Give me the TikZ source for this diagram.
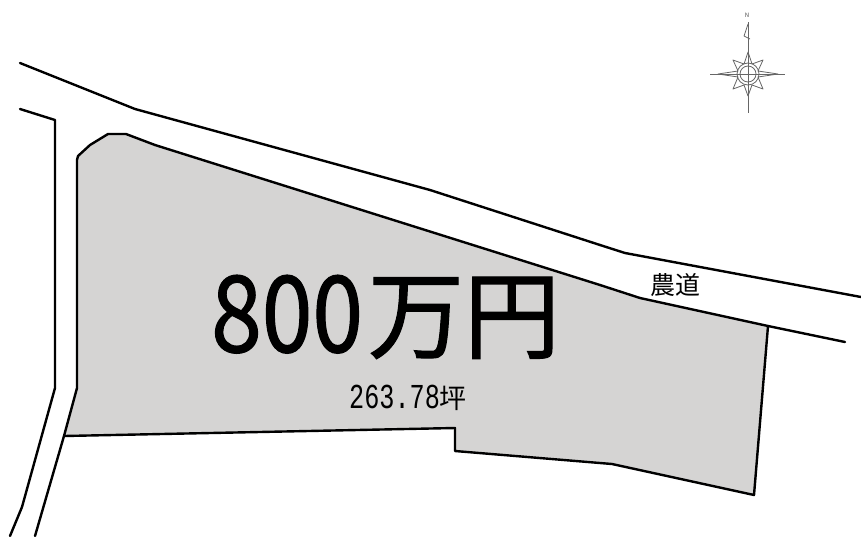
\documentclass[tikz,border=0pt]{standalone}
\usepackage{fontspec}
\setmainfont{Noto Sans CJK JP}
\newfontfamily\monof{Liberation Mono}
\newfontfamily\heavyf[FakeBold=1.2]{Noto Sans CJK JP}
\definecolor{lotgray}{HTML}{D5D4D3}
\tikzset{
  line/.style={line width=2.4pt,black,line join=round,line cap=round},
  comp/.style={line width=.8pt,draw=black!60,line join=round},
  lab/.style={inner sep=0pt,text=black}
}
\begin{document}
\begin{tikzpicture}[x=1pt,y=-1pt]
\useasboundingbox (0,0) rectangle (861,536);
% lot
\draw[line,fill=lotgray] (77,160) -- (78,156) -- (90,145) -- (108,134) -- (126,134) -- (155,145)
  -- (600,285) -- (640,298) -- (768,326) -- (754,495) -- (612,464) -- (455,451) -- (455,428)
  -- (64,436) -- (77,388) -- cycle;
% road lower edge continuation
\draw[line] (768,326) -- (845,342);
% road upper edge
\draw[line] (20,63) -- (135,109) -- (430,190) -- (600,245) -- (625,253) -- (861,297);
% left road
\draw[line] (20,109) -- (55,120) -- (55,388) -- (22,507) -- (10,536);
\draw[line] (64,436) -- (35,536);
% labels
\node[lab,anchor=base west] (price) at (211,352) {\heavyf\scalebox{.86}[1]{\fontsize{106}{106}\selectfont 800}\hspace{5pt}\raisebox{1pt}{\fontsize{96}{96}\selectfont 万円}};
\node[lab,anchor=base west] (area) at (349,408) {\scalebox{.72}[1]{\monof\fontsize{35}{35}\selectfont 263.78}\fontsize{27}{27}\selectfont 坪};
\node[lab,anchor=center] (road) at (675,285) {\fontsize{25}{25}\selectfont 農道};
% compass
\node[lab,anchor=center,text=black!70] (north) at (747,15) {\fontsize{6}{6}\selectfont N};
\coordinate (cc) at (748,74);
\draw[comp] (748,22) -- (748,113);
\draw[comp] (710,74) -- (785,74);
\draw[comp] (748,24) -- (744,36) -- (750,39);
\draw[comp,fill=white] (748,52) -- (752,64) -- (763,60) -- (758,71) -- (778,74) -- (758,77)
  -- (763,89) -- (752,85) -- (748,96) -- (744,85) -- (733,89) -- (738,77) -- (718,74)
  -- (738,71) -- (733,60) -- (744,64) -- cycle;
\draw[comp] (cc) circle[radius=11];
\draw[comp] (cc) circle[radius=8];
\draw[comp] (748,52) -- (748,96) (718,74) -- (778,74);
\end{tikzpicture}
\end{document}
